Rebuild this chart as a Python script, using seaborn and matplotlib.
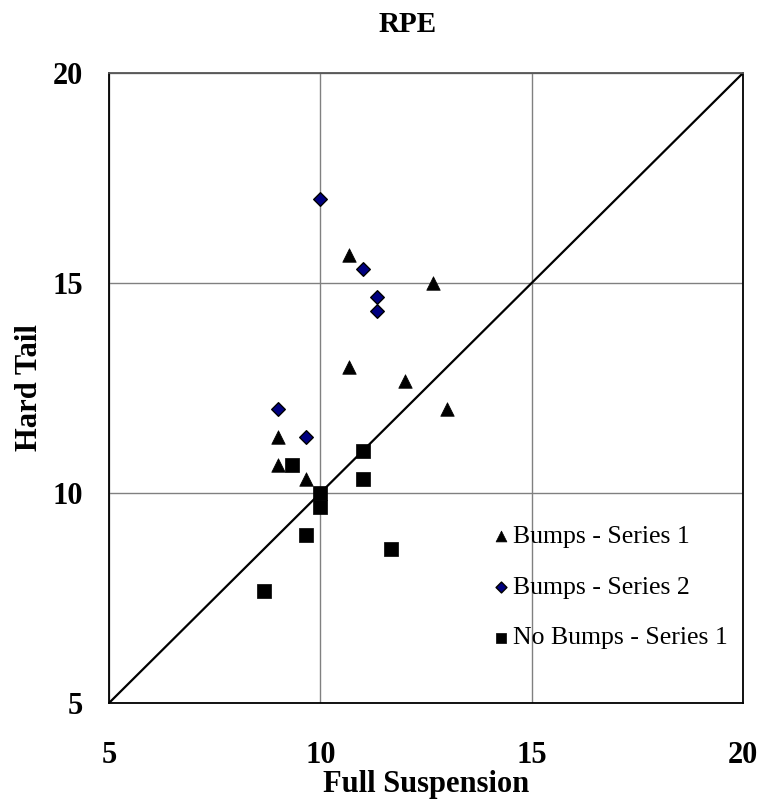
import matplotlib
matplotlib.use("Agg")
import matplotlib.pyplot as plt
import seaborn as sns
import pandas as pd

# values (Full Suspension vs Hard Tail RPE)
bumps1_x = [10.67, 12.67, 10.67, 12.0, 13.0, 9.0, 9.0, 9.67]
bumps1_y = [15.67, 15.0, 13.0, 12.67, 12.0, 11.33, 10.67, 10.33]
bumps2_x = [10.0, 11.0, 11.33, 11.33, 9.0, 9.67]
bumps2_y = [17.0, 15.33, 14.67, 14.33, 12.0, 11.33]
nobumps_x = [9.33, 11.0, 11.0, 10.0, 10.0, 9.67, 11.67, 8.67]
nobumps_y = [10.67, 11.0, 10.33, 10.0, 9.67, 9.0, 8.67, 7.67]
series_names = ["Bumps - Series 1", "Bumps - Series 2", "No Bumps - Series 1"]
identity = [5, 20]
ticks = [5, 10, 15, 20]

sns.set_style("white")
plt.rcParams['font.family'] = ['Liberation Serif', 'DejaVu Serif']
plt.rcParams['text.color'] = 'black'
plt.rcParams['axes.labelcolor'] = 'black'

fig = plt.figure(figsize=(7.64, 8.07), dpi=100)
ax = fig.add_axes([109 / 764, 1 - 703 / 807, 634 / 764, 630 / 807])

# grid first, then identity line, then points
ax.set_axisbelow(True)
ax.grid(True, color="#808080", linewidth=1.0)

sns.lineplot(x=identity, y=identity, color="black", linewidth=1.6, ax=ax)

sns.scatterplot(x=bumps1_x, y=bumps1_y, marker="^", s=95, color="black",
                edgecolor="black", linewidth=0.5, label=series_names[0], ax=ax, zorder=3)
sns.scatterplot(x=bumps2_x, y=bumps2_y, marker="D", s=48, color="#000080",
                edgecolor="black", linewidth=1.0, label=series_names[1], ax=ax, zorder=3)
sns.scatterplot(x=nobumps_x, y=nobumps_y, marker="s", s=90, color="black",
                edgecolor="black", linewidth=0.5, label=series_names[2], ax=ax, zorder=4)

ax.set_xlim(5, 20)
ax.set_ylim(5, 20)
ax.set_xticks(ticks)
ax.set_yticks(ticks)
ax.tick_params(axis="both", direction="out", length=7.5, width=1.0, color="#808080",
               labelsize=22, labelcolor="black")
ax.tick_params(axis="x", pad=20)
ax.tick_params(axis="y", pad=11)
for lab in ax.get_xticklabels() + ax.get_yticklabels():
    lab.set_fontweight("bold")

for side in ["left", "bottom", "right"]:
    ax.spines[side].set_color("black")
    ax.spines[side].set_linewidth(1.3)
ax.spines["top"].set_color("#555555")
ax.spines["top"].set_linewidth(1.3)

ax.set_xlabel("Full Suspension", fontsize=22, fontweight="bold", labelpad=0)
ax.set_ylabel("Hard Tail", fontsize=22, fontweight="bold", labelpad=6)
fig.text(408 / 764, 1 - 25 / 807, "RPE", ha="center", va="center",
         fontsize=21, fontweight="bold")

ax.legend(loc="upper left", bbox_to_anchor=(495 / 764, 1 - 525 / 807),
          bbox_transform=fig.transFigure, frameon=False, fontsize=18.5,
          handlelength=0.5, handletextpad=0.2, labelspacing=1.08,
          borderpad=0, borderaxespad=0, markerscale=0.8)

fig.savefig("out.png", dpi=100)
